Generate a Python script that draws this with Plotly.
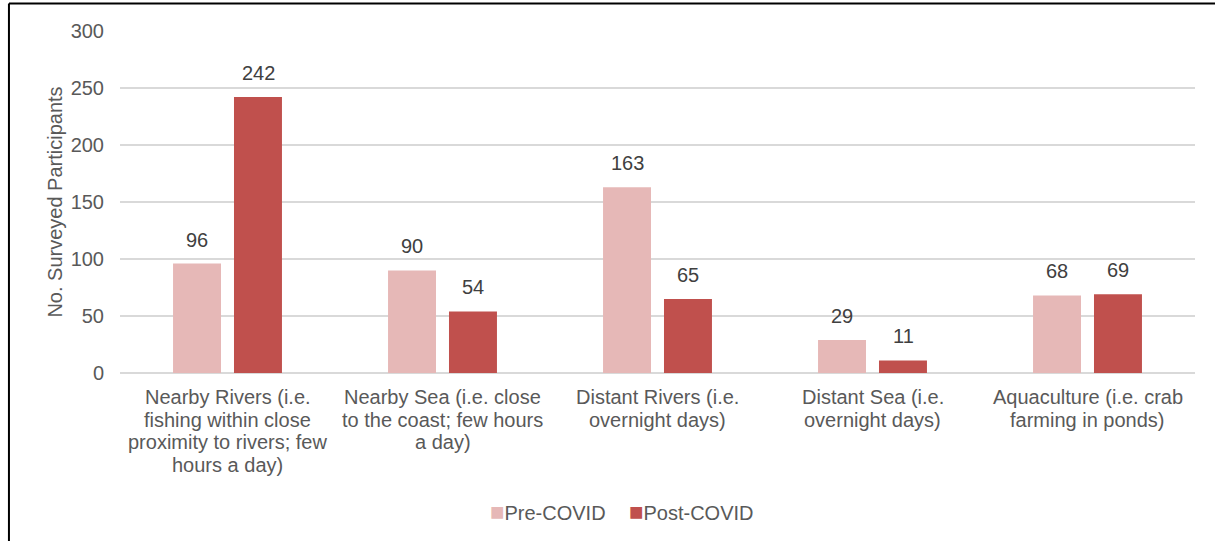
import plotly.graph_objects as go

categories = [
    "Nearby Rivers (i.e.<br>fishing within close<br>proximity to rivers; few<br>hours a day)",
    "Nearby Sea (i.e. close<br>to the coast; few hours<br>a day)",
    "Distant Rivers (i.e.<br>overnight days)",
    "Distant Sea (i.e.<br>overnight days)",
    "Aquaculture (i.e. crab<br>farming in ponds)",
]
pre_covid = [96, 90, 163, 29, 68]
post_covid = [242, 54, 65, 11, 69]
y_ticks = [0, 50, 100, 150, 200, 250, 300]
series = [("Pre-COVID", pre_covid, "#E6B8B7"), ("Post-COVID", post_covid, "#C0504D")]

FONT = "Liberation Sans, Arial, sans-serif"
TEXT = "#595959"
LABEL = "#404040"
SIZE = 20

fig = go.Figure()
for name, values, color in series:
    fig.add_trace(go.Bar(
        name=name, x=categories, y=values,
        marker=dict(color=color, line=dict(width=0)),
        showlegend=False,
    ))

annotations = []

# value labels above each bar (half a bar slot left/right of the category centre)
slot_px = 61
for i, (name, values, color) in enumerate(series):
    xshift = (i - 0.5) * slot_px
    for cat, v in zip(categories, values):
        annotations.append(dict(
            x=cat, y=v, xref="x", yref="y", text=str(v), showarrow=False,
            xanchor="center", yanchor="middle", xshift=xshift, yshift=24,
            font=dict(family=FONT, size=SIZE, color=LABEL),
        ))

# category labels, one line per annotation for tighter line spacing
for cat in categories:
    for j, line in enumerate(cat.split("<br>")):
        annotations.append(dict(
            x=cat, y=0, xref="x", yref="y", text=line, showarrow=False,
            xanchor="center", yanchor="middle", yshift=-(24 + j * 22.7),
            font=dict(family=FONT, size=SIZE, color=TEXT),
        ))

# legend entries
legend_x = [0.3423, 0.4716]
for (name, values, color), lx in zip(series, legend_x):
    annotations.append(dict(
        x=lx, y=-0.4064, xref="paper", yref="paper", showarrow=False,
        xanchor="left", yanchor="middle",
        text=f"<span style='color:{color};font-size:24px'>■</span>{name}",
        font=dict(family=FONT, size=SIZE, color=TEXT),
    ))

fig.update_layout(
    width=1215, height=541,
    margin=dict(l=120, r=20, t=31, b=168),
    paper_bgcolor="white", plot_bgcolor="white",
    barmode="group", bargap=0.433, bargroupgap=0.213,
    font=dict(family=FONT, size=SIZE, color=TEXT),
    showlegend=False,
    xaxis=dict(
        showgrid=False, showline=False, zeroline=False,
        showticklabels=False, ticks="",
    ),
    yaxis=dict(
        range=[0, 300], tickvals=y_ticks,
        showgrid=True, gridcolor="#D9D9D9", gridwidth=1.5,
        zeroline=True, zerolinecolor="#D9D9D9", zerolinewidth=1.5,
        showline=False, ticks="", ticklabelstandoff=15,
        tickfont=dict(family=FONT, size=SIZE, color=TEXT),
        title=dict(text="No. Surveyed Participants", standoff=2,
                   font=dict(family=FONT, size=SIZE, color=TEXT)),
    ),
    annotations=annotations,
    shapes=[
        dict(type="line", xref="paper", yref="paper",
             x0=-0.1033, x1=-0.1033, y0=1.0804, y1=-0.5, line=dict(color="black", width=2)),
        dict(type="line", xref="paper", yref="paper",
             x0=-0.1033, x1=1.02, y0=1.0804, y1=1.0804, line=dict(color="black", width=2)),
    ],
)

fig.write_html("out.html")
